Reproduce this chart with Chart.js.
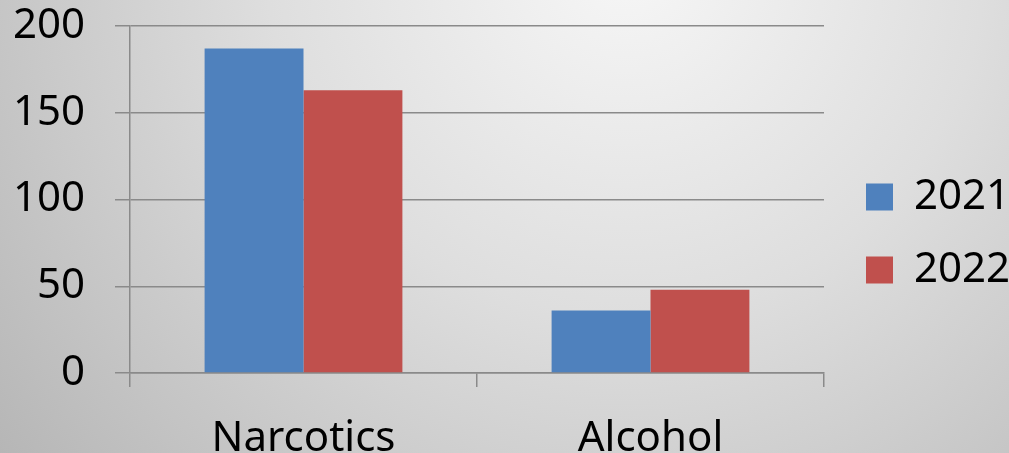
<!DOCTYPE html>
<html>
<head>
<meta charset="utf-8">
<script src="https://cdn.jsdelivr.net/npm/chart.js@4.4.0/dist/chart.umd.min.js"></script>
<style>
  html, body { margin: 0; padding: 0; }
  body {
    width: 1009px; height: 453px; overflow: hidden;
    background: radial-gradient(circle farthest-corner at 62% -10%, #f7f7f7 0%, #dedede 45%, #b6b6b6 100%);
  }
  #wrap { width: 1009px; height: 453px; }
</style>
</head>
<body>
<div id="wrap"><canvas id="chart" width="1009" height="453"></canvas></div>
<script>
// data
const categories = ['Narcotics', 'Alcohol'];
const series2021 = [187, 36];
const series2022 = [163, 48];
const yTicks = [0, 50, 100, 150, 200];

const gridColor = '#8a8a8a';
const fontFamily = '"Noto Sans", "Open Sans", sans-serif';

// legend sits a bit away from the plot, like the office chart
const legendPlacer = {
    id: 'legendPlacer',
    afterInit(chart) {
        const legend = chart.legend;
        const fit = legend.fit.bind(legend);
        legend.fit = function () {
            fit();
            this.width = 185;
        };
    },
    afterLayout(chart) {
        const legend = chart.legend;
        legend.left = 835;
        legend.right = 1009;
        legend.top -= 6;
        legend.bottom -= 6;
    }
};

const ctx = document.getElementById('chart').getContext('2d');

const chart = new Chart(ctx, {
    type: 'bar',
    data: {
        labels: categories,
        datasets: [
            {
                label: '2021',
                data: series2021,
                backgroundColor: '#4f81bd',
                borderWidth: 0
            },
            {
                label: '2022',
                data: series2022,
                backgroundColor: '#c0504d',
                borderWidth: 0
            }
        ]
    },
    plugins: [legendPlacer],
    options: {
        responsive: false,
        animation: false,
        layout: {
            padding: { top: 26, right: 0, bottom: 0, left: 0 }
        },
        datasets: {
            bar: {
                categoryPercentage: 0.57,
                barPercentage: 1.0
            }
        },
        scales: {
            x: {
                offset: true,
                afterFit: (scale) => {
                    scale.height = 80;
                },
                grid: {
                    offset: true,
                    drawOnChartArea: false,
                    drawTicks: true,
                    tickLength: 14,
                    color: gridColor,
                    lineWidth: 1.5
                },
                border: { color: gridColor, width: 1.5 },
                ticks: {
                    color: '#000',
                    font: { family: fontFamily, size: 42 },
                    padding: 27
                }
            },
            y: {
                min: 0,
                max: 200,
                afterBuildTicks: (scale) => {
                    scale.ticks = yTicks.map(v => ({ value: v }));
                },
                afterFit: (scale) => {
                    scale.width = 130;
                    scale.paddingTop = 0;
                    scale.paddingBottom = 0;
                },
                grid: {
                    color: gridColor,
                    lineWidth: 1.5,
                    tickLength: 15
                },
                border: { color: gridColor, width: 1.5 },
                ticks: {
                    color: '#000',
                    font: { family: fontFamily, size: 42 },
                    padding: 30
                }
            }
        },
        plugins: {
            legend: {
                position: 'right',
                labels: {
                    color: '#000',
                    font: { family: fontFamily, size: 42 },
                    boxWidth: 27,
                    boxHeight: 27,
                    padding: 31
                }
            },
            tooltip: { enabled: false }
        }
    }
});
</script>
</body>
</html>
